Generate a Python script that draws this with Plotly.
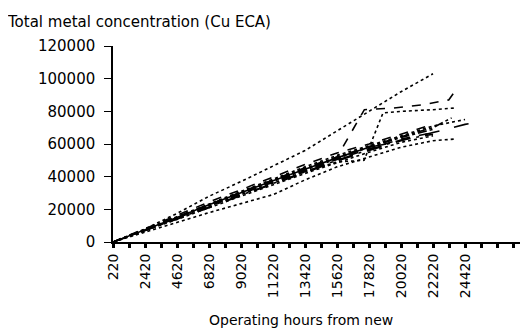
import plotly.graph_objects as go

# Tick labels (operating hours)
tick_hours = [220, 2420, 4620, 6820, 9020, 11220, 13420, 15620, 17820, 20020, 22220, 24420]
H = [220, 2420, 4620, 6820, 9020, 11220, 13420, 15620, 17820, 20020, 22220, 24420]

s1_x = H[:11]
s1_y = [0, 8000, 17500, 28000, 37000, 46500, 56000, 68000, 80000, 92000, 103000]

s2_x = [220, 2420, 4620, 6820, 9020, 11220, 13420, 15620, 17500, 19500, 21500, 23300, 23940]
s2_y = [0, 7500, 15500, 23000, 30500, 38000, 45500, 52000, 81000, 82000, 84000, 87000, 95000]

s3_x = [220, 2420, 4620, 6820, 9020, 11220, 13420, 15620, 17480, 18780, 20020, 22220, 23660]
s3_y = [0, 7000, 14500, 22000, 29000, 36000, 43000, 49000, 50000, 79000, 80000, 81000, 82000]

s4_x = H + [25380]
s4_y = [0, 7000, 14000, 21000, 28500, 35500, 42500, 49500, 56000, 62000, 67000, 72000, 73400]

s5_x = H[:11] + [23660]
s5_y = [0, 6000, 12000, 18000, 23500, 29000, 38000, 46000, 52000, 58000, 62000, 63000]

s6_x = H[:11]
s6_y = [0, 7500, 15000, 22500, 30000, 37000, 44000, 51000, 58000, 64000, 69000]

s7_x = H[:11]
s7_y = [0, 7200, 14800, 22000, 29500, 36500, 43500, 50500, 57000, 63000, 67000]

s8_x = H
s8_y = [0, 7800, 15800, 23500, 31000, 38500, 46000, 53000, 59000, 65000, 71000, 75000]

s9_x = H[:11]
s9_y = [0, 7000, 14200, 21500, 28800, 36000, 43000, 50000, 56500, 62500, 66000]

s10_x = H[:11]
s10_y = [0, 8200, 16500, 24500, 32000, 40000, 47500, 54500, 60000, 66000, 72000]

s11_x = H[:11]
s11_y = [0, 6800, 13800, 21000, 28000, 35000, 42000, 48500, 55000, 61000, 65000]

s12_x = H[:11] + [23500]
s12_y = [0, 7600, 15400, 23200, 30800, 38000, 45000, 52000, 58500, 64500, 70000, 76000]

s13_x = H[:9] + [19000]
s13_y = [0, 7400, 15000, 22800, 30200, 37500, 44500, 51500, 58000, 60000]

series = [
    (s1_x, s1_y, "dot"), (s2_x, s2_y, "dash"), (s3_x, s3_y, "dot"),
    (s4_x, s4_y, "longdash"), (s5_x, s5_y, "dot"), (s6_x, s6_y, "dashdot"),
    (s7_x, s7_y, "dash"), (s8_x, s8_y, "dot"), (s9_x, s9_y, "longdashdot"),
    (s10_x, s10_y, "dash"), (s11_x, s11_y, "dot"), (s12_x, s12_y, "dashdot"),
    (s13_x, s13_y, "solid"),
]

fig = go.Figure()
for xs, ys, dash in series:
    fig.add_trace(go.Scatter(x=xs, y=ys, mode="lines",
                             line=dict(color="black", width=1.6, dash=dash),
                             showlegend=False, hoverinfo="skip"))

# The page body has an 8px margin, so the figure is sized to fill the rest.
W, Hh = 520, 323
font_fam = "DejaVu Sans, Arial, sans-serif"
fig.update_layout(
    width=W, height=Hh,
    margin=dict(l=105, r=0, t=38, b=89, autoexpand=False),
    paper_bgcolor="white", plot_bgcolor="white",
    font=dict(family=font_fam, color="black", size=15),
    title=dict(text="Total metal concentration (Cu ECA)", x=0.0, xref="container",
               xanchor="left", y=1 - 14 / Hh, yanchor="middle", automargin=False,
               font=dict(size=15, family=font_fam, color="black")),
    xaxis=dict(range=[220, 28750], tickmode="array", tickvals=tick_hours,
               ticktext=[str(t) for t in tick_hours], tickangle=-90, automargin=False,
               showgrid=False, zeroline=False, showline=True, linecolor="black",
               linewidth=2, ticks="outside", ticklen=4, tickwidth=2, tickcolor="black",
               minor=dict(dtick=1100, tick0=220, ticks="outside", ticklen=4,
                          tickwidth=2.5, tickcolor="black", showgrid=False),
               tickfont=dict(size=14)),
    yaxis=dict(range=[0, 120000], tickvals=[0, 20000, 40000, 60000, 80000, 100000, 120000],
               ticktext=["0", "20000", "40000", "60000", "80000", "100000", "120000"],
               automargin=False,
               showgrid=False, zeroline=False, showline=True, linecolor="black",
               linewidth=1.5, ticks="outside", ticklen=7, tickcolor="black",
               ticklabelstandoff=6, tickfont=dict(size=15)),
    annotations=[dict(text="Operating hours from new", xref="paper", yref="paper",
                      x=(301 - 113) / 415, y=-(320 - 242) / 196, xanchor="center",
                      yanchor="middle", showarrow=False, font=dict(size=14))],
)

fig.write_html("out.html")
